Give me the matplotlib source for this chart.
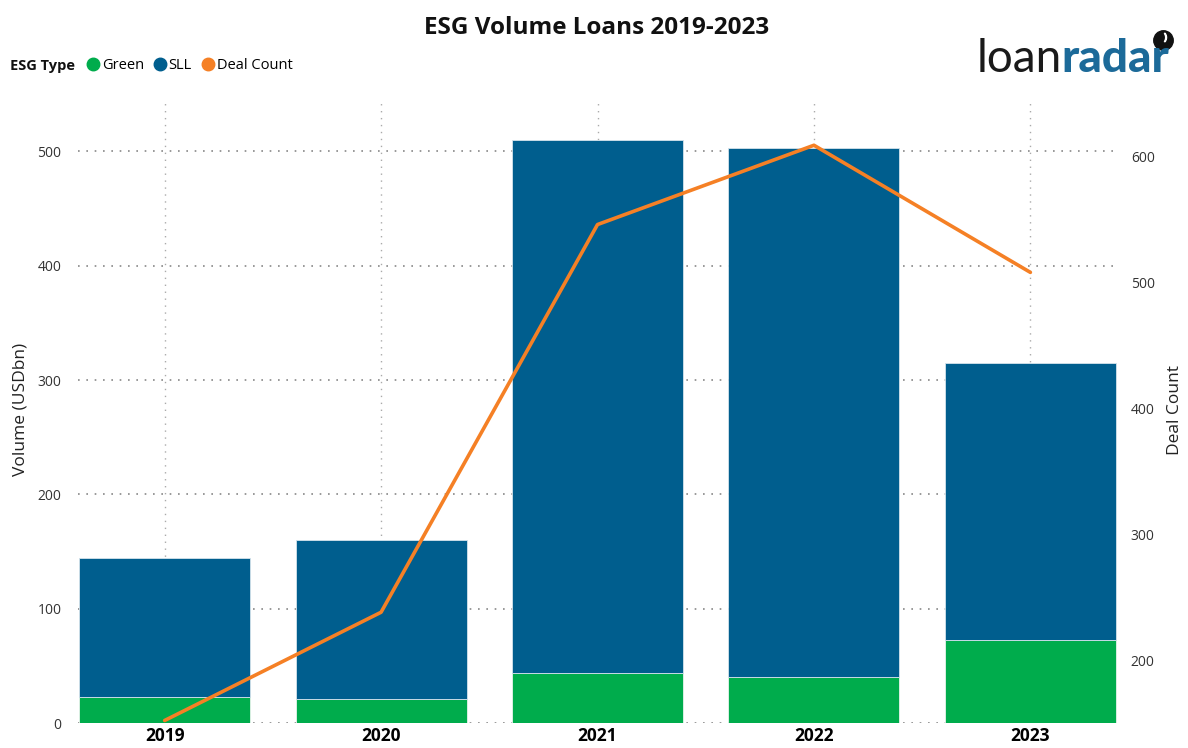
import numpy as np
import matplotlib
matplotlib.use('Agg')
import matplotlib.pyplot as plt
from matplotlib.lines import Line2D

plt.rcParams['font.family'] = ['Open Sans', 'DejaVu Sans']

GREEN = '#00ac4c'
BLUE = '#005e8e'
ORANGE = '#f58025'

years = ['2019', '2020', '2021', '2022', '2023']
green = [23, 21, 44, 40, 73]
sll = [121, 139, 466, 463, 242]
deal_count = [152, 238, 546, 609, 508]

x = np.arange(len(years))

fig = plt.figure(figsize=(11.88, 7.48), dpi=100)
ax = fig.add_axes([0.0657, 0.0334, 0.8745, 0.833])

ax.bar(x, green, width=0.79, color=GREEN, edgecolor='#e8f3ec', linewidth=0.6, zorder=2)
ax.bar(x, sll, bottom=green, width=0.79, color=BLUE, edgecolor='#d5e3ec', linewidth=0.6, zorder=2)

ax.set_xlim(-0.4, 4.4)
ax.set_ylim(0, 545)
ax.set_yticks([0, 100, 200, 300, 400, 500])
ax.set_xticks(x)
ax.set_xticklabels(years, fontsize=12.5, fontweight='bold')
ax.tick_params(axis='x', length=0, pad=3)
ax.tick_params(axis='y', length=0, pad=12, labelsize=10, labelcolor='#333333')

ax.grid(axis='y', linestyle=(0, (1, 4)), color='#888888', linewidth=1.2, zorder=0)
ax.grid(axis='x', linestyle=(0, (1, 4)), color='#aaaaaa', linewidth=1.0, zorder=0)
for s in ax.spines.values():
    s.set_visible(False)

ax2 = ax.twinx()
ax2.plot(x, deal_count, color=ORANGE, linewidth=2.6, zorder=3, solid_capstyle='round')
ax2.set_ylim(150, 645)
ax2.set_yticks([200, 300, 400, 500, 600])
ax2.tick_params(axis='y', length=0, pad=10, labelsize=10, labelcolor='#333333')
for s in ax2.spines.values():
    s.set_visible(False)

# axis titles
fig.text(0.017, 0.452, 'Volume (USDbn)', rotation=90, ha='center', va='center',
         fontsize=12.5, color='#222222')
fig.text(0.989, 0.452, 'Deal Count', rotation=90, ha='center', va='center',
         fontsize=12.5, color='#222222')

fig.text(0.5025, 0.963, 'ESG Volume Loans 2019-2023', ha='center', va='center',
         fontsize=17.5, fontweight='bold', color='#111111')

# legend row
fig.text(0.008, 0.912, 'ESG Type', ha='left', va='center', fontsize=10.5,
         fontweight='bold', color='#111111')
handles = [Line2D([], [], marker='o', linestyle='', markersize=9, color=c)
           for c in (GREEN, BLUE, ORANGE)]
fig.legend(handles, ['Green', 'SLL', 'Deal Count'], loc='center left',
           bbox_to_anchor=(0.066, 0.912), ncol=3, frameon=False, fontsize=10.5,
           handletextpad=0.0, columnspacing=0.5, handlelength=1.2, borderaxespad=0)

# logo
split = 0.8935
fig.text(split, 0.904, 'loan', ha='right', va='baseline', fontsize=33,
         fontweight='normal', color='#1a1a1a', family=['Lato', 'DejaVu Sans'])
fig.text(split, 0.904, 'radar', ha='left', va='baseline', fontsize=33,
         fontweight='black', color='#1c6a99', family=['Lato', 'DejaVu Sans'])
fig.add_artist(Line2D([0.979], [0.947], marker='o', markersize=14,
                      color='#111111', transform=fig.transFigure))
fig.add_artist(Line2D([0.981], [0.950], marker=r'$)$', markersize=6,
                      color='white', transform=fig.transFigure))

fig.savefig('out.png', dpi=100)
